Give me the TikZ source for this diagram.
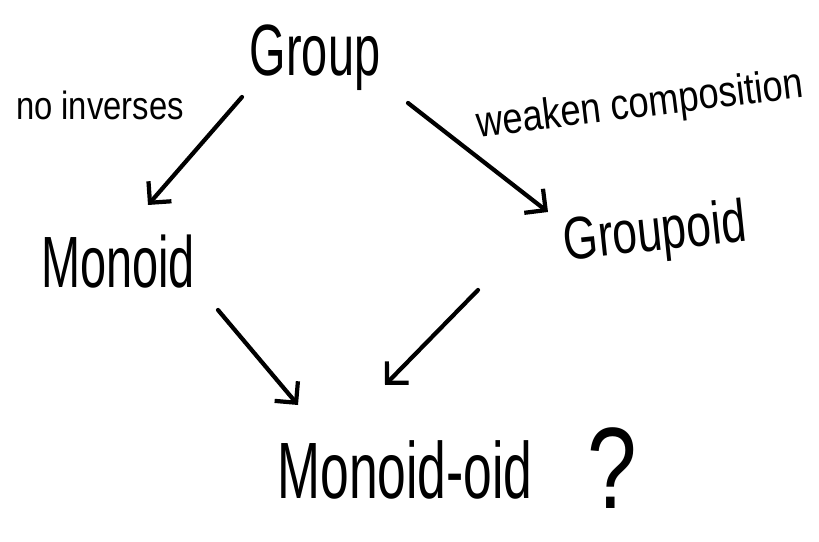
\documentclass[tikz,border=0pt]{standalone}
\usepackage{fontspec}
\setmainfont{Liberation Sans}
\usetikzlibrary{arrows.meta}
\newcommand{\tallbox}[1]{\scalebox{1}[1.55]{#1}}
\begin{document}
\begin{tikzpicture}[x=0.03cm,y=-0.03cm,
  lbl/.style={inner sep=0pt, text=black},
  arr/.style={line width=3.6pt, line cap=round, line join=round,
    -{Straight Barb[length=13pt,width=26pt,line width=3.6pt]}}]
\useasboundingbox[fill=white] (0,0) rectangle (819,542);
\node[lbl, font=\fontsize{40}{44}\selectfont] (group) at (315,58) {\tallbox{Group}};
\node[lbl, font=\fontsize{28}{32}\selectfont] (noinv) at (100,105) {\scalebox{1}[1.2]{no inverses}};
\node[lbl, font=\fontsize{31}{34}\selectfont, rotate=7] (weaken) at (640,106) {\scalebox{1}[1.2]{weaken composition}};
\node[lbl, font=\fontsize{40}{44}\selectfont] (monoid) at (118,262) {\tallbox{Monoid}};
\node[lbl, font=\fontsize{38}{42}\selectfont, rotate=6] (groupoid) at (655,235) {\scalebox{1}[1.35]{Groupoid}};
\node[lbl, font=\fontsize{44}{48}\selectfont] (monoidoid) at (405,470) {\tallbox{Monoid-oid}};
\node[lbl, font=\fontsize{76}{80}\selectfont] (q) at (612,468) {\scalebox{1}[1.3]{?}};
\draw[arr] ([shift={(-73,39)}]group.center) -- ([shift={(30,-57)}]monoid.center);
\draw[arr] ([shift={(93,45)}]group.center) -- ([shift={(-107,-23)}]groupoid.center);
\draw[arr] ([shift={(100,48)}]monoid.center) -- ([shift={(-107,-65)}]monoidoid.center);
\draw[arr] ([shift={(-177,55)}]groupoid.center) -- ([shift={(-20,-85)}]monoidoid.center);
\end{tikzpicture}
\end{document}
